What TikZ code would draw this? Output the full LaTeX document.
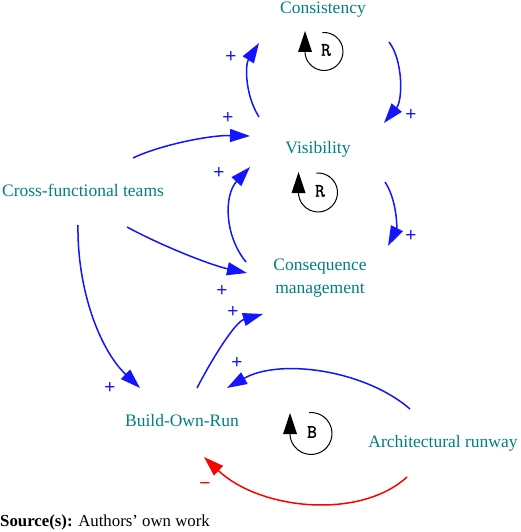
\documentclass[tikz,border=0pt]{standalone}
\usepackage{fontspec}
\setmainfont{Liberation Serif}
\newfontfamily\polfont{Liberation Sans}
\newfontfamily\loopfont[FakeBold=1.2]{Latin Modern Mono}
\usetikzlibrary{arrows.meta,calc}
\definecolor{tealtext}{RGB}{0,128,128}
\definecolor{linkblue}{RGB}{20,20,255}
\definecolor{linkred}{RGB}{255,0,0}
\begin{document}
\begin{tikzpicture}[x=1pt,y=-1pt,
  var/.style={text=tealtext, font=\fontsize{17.5}{22.5}\selectfont, inner sep=0pt, align=center},
  link/.style={draw=linkblue, line width=1.5pt, -{Triangle[length=20pt,width=13pt]}},
  neglink/.style={link, draw=linkred},
  pol/.style={text=linkblue, font=\polfont\fontsize{19}{19}\selectfont, inner sep=0pt},
  negpol/.style={pol, text=linkred},
  looplabel/.style={font=\loopfont\fontsize{19}{19}\selectfont, inner sep=0pt},
  loopline/.style={draw=black, line width=1pt},
  looptip/.style={fill=black, draw=none}]
\useasboundingbox (0,0) rectangle (520,532);

% variables
\node[var] (cons) at (323,10) {Consistency};
\node[var] (vis) at (318,149) {Visibility};
\node[var] (cft) at (83,190) {Cross-functional teams};
\node[var] (cm) at (320,278) {Consequence\\management};
\node[var] (bor) at (182,421) {Build-Own-Run};
\node[var] (ar) at (443,443) {Architectural runway};

% links
\draw[link] ($(vis)+(-59,-32)$) .. controls ($(vis)+(-73,-54)$) and ($(cons)+(-78,55)$) .. ($(cons)+(-64,33)$);
\draw[link] ($(cons)+(66,32)$) .. controls ($(cons)+(80,50)$) and ($(vis)+(85,-49)$) .. ($(vis)+(66,-26)$);
\draw[link] ($(cft)+(50,-32)$) .. controls ($(cft)+(77,-45)$) and ($(vis)+(-108,-14)$) .. ($(vis)+(-68,-13)$);
\draw[link] ($(vis)+(67,33)$) .. controls ($(vis)+(79,51)$) and ($(cm)+(77,-50)$) .. ($(cm)+(68,-32)$);
\draw[link] ($(cm)+(-74,-16)$) .. controls ($(cm)+(-96,-43)$) and ($(vis)+(-94,46)$) .. ($(vis)+(-68,18)$);
\draw[link] ($(cft)+(44,37)$) .. controls ($(cft)+(77,55)$) and ($(cm)+(-110,-13)$) .. ($(cm)+(-73,-5)$);
\draw[link] ($(bor)+(15,-33)$) .. controls ($(bor)+(30,-62)$) and ($(cm)+(-85,44)$) .. ($(cm)+(-57,36)$);
\draw[link] ($(cft)+(-5,35)$) .. controls ($(cft)+(-6,100)$) and ($(bor)+(-82,-71)$) .. ($(bor)+(-42,-33)$);
\draw[link] ($(ar)+(-33,-34)$) .. controls ($(ar)+(-78,-73)$) and ($(bor)+(98,-63)$) .. ($(bor)+(45,-33)$);
\draw[neglink] ($(ar)+(-36,34)$) .. controls ($(ar)+(-83,77)$) and ($(bor)+(78,89)$) .. ($(bor)+(22,36)$);

% polarities
\node[pol] (p1) at (231,57) {+};
\node[pol] (p2) at (411,115) {+};
\node[pol] (p3) at (228,118) {+};
\node[pol] (p4) at (411,236) {+};
\node[pol] (p5) at (219,173) {+};
\node[pol] (p6) at (222,291) {+};
\node[pol] (p7) at (233,312) {+};
\node[pol] (p8) at (110,388) {+};
\node[pol] (p9) at (237,363) {+};
\node[negpol] (p10) at (205,486) {−};

% loop markers
\node[looplabel] (l1) at (326,50) {R};
\draw[loopline] ($(l1)+(-2,1.5)+(-95:19)$) arc[start angle=-95, end angle=180, radius=19];
\fill[looptip] ($(l1)+(-28,2)$) -- ($(l1)+(-14,2)$) -- ($(l1)+(-21,-19)$) -- cycle;

\node[looplabel] (l2) at (320,191) {R};
\draw[loopline] ($(l2)+(-2,1.5)+(-95:19.5)$) arc[start angle=-95, end angle=180, radius=19.5];
\fill[looptip] ($(l2)+(-28.5,2)$) -- ($(l2)+(-14.5,2)$) -- ($(l2)+(-21.5,-19)$) -- cycle;

\node[looplabel] (l3) at (312,432) {B};
\draw[loopline] ($(l3)+(-1,1.5)+(-95:21)$) arc[start angle=-95, end angle=180, radius=21];
\fill[looptip] ($(l3)+(-29,2)$) -- ($(l3)+(-15,2)$) -- ($(l3)+(-22,-19)$) -- cycle;

% source
\node[anchor=base west, inner sep=0pt, font=\fontsize{16.8}{17}\selectfont] (src) at (0,526) {\textbf{Source(s):} Authors’ own work};
\end{tikzpicture}
\end{document}
